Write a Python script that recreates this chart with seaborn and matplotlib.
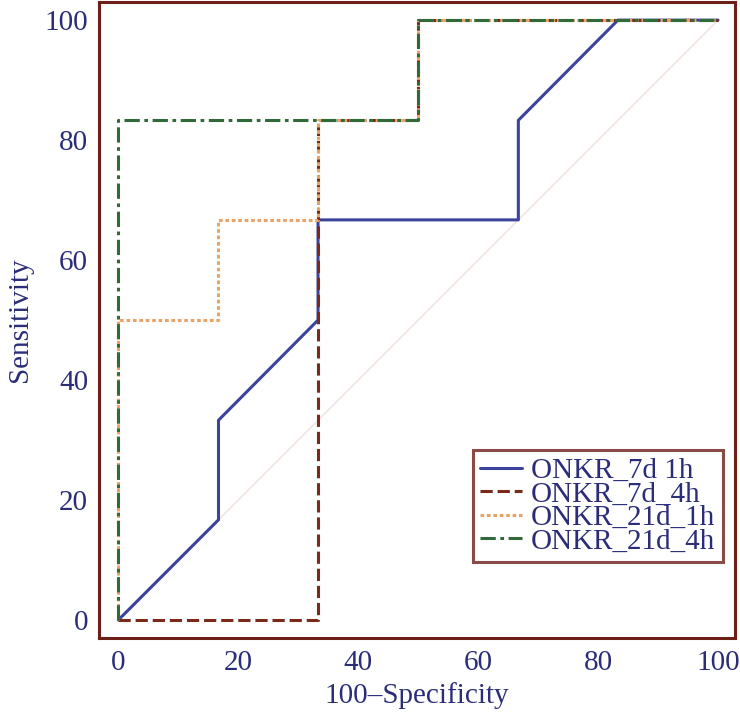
import matplotlib
matplotlib.use("Agg")
import matplotlib.pyplot as plt
import seaborn as sns
import pandas as pd

# ROC data (100-Specificity, Sensitivity)
labels = ["ONKR_7d 1h", "ONKR_7d_4h", "ONKR_21d_1h", "ONKR_21d_4h"]
x_7d_1h = [0, 16.7, 16.7, 33.3, 33.3, 66.7, 66.7, 83.3, 100]
y_7d_1h = [0, 16.7, 33.3, 50.0, 66.7, 66.7, 83.3, 100, 100]
x_7d_4h = [0, 33.3, 33.3, 50, 50, 100]
y_7d_4h = [0, 0, 83.3, 83.3, 100, 100]
x_21d_1h = [0, 0, 16.7, 16.7, 33.3, 33.3, 50, 50, 100]
y_21d_1h = [0, 50, 50, 66.7, 66.7, 83.3, 83.3, 100, 100]
x_21d_4h = [0, 0, 50, 50, 100]
y_21d_4h = [0, 83.3, 83.3, 100, 100]
diag = [0, 100]
xticks = [0, 20, 40, 60, 80, 100]
yticks = [0, 20, 40, 60, 80, 100]

series = [(x_7d_1h, y_7d_1h), (x_7d_4h, y_7d_4h), (x_21d_1h, y_21d_1h), (x_21d_4h, y_21d_4h)]
colors = ["#3b439c", "#7a2a1c", "#e9a366", "#2f6a38"]
dashes = [(None, None), (4, 1.6), (1.2, 0.9), (5, 1.5, 1.2, 1.5)]
widths = [2.2, 2.2, 2.2, 2.2]

sns.set_theme(style="white")
plt.rcParams['font.family'] = ['Liberation Serif', 'DejaVu Serif']
text_color = "#2b2d78"
spine_color = "#6b1f16"

fig = plt.figure(figsize=(7.4, 7.16), dpi=100)
ax = fig.add_axes([0.134, 0.109, 0.859, 0.888])

sns.lineplot(x=diag, y=diag, ax=ax, color="#f2e4e2", linewidth=1.2, sort=False, estimator=None)

for (xs, ys), lab, c, d, w in zip(series, labels, colors, dashes, widths):
    df = pd.DataFrame({"x": xs, "y": ys})
    sns.lineplot(data=df, x="x", y="y", ax=ax, color=c, linewidth=w,
                 sort=False, estimator=None, label=lab)
    if d[0] is not None:
        ax.lines[-1].set_dashes(d)

ax.set_xlim(-3.2, 102.8)
ax.set_ylim(-3.0, 103.0)
ax.set_xticks(xticks)
ax.set_yticks(yticks)
ax.tick_params(direction="in", length=13, width=2.2, color=spine_color,
               labelsize=21, labelcolor=text_color)
ax.tick_params(axis="x", pad=9)
ax.tick_params(axis="y", pad=8)
for s in ax.spines.values():
    s.set_color(spine_color)
    s.set_linewidth(2.2)
ax.set_xlabel("100\u2013Specificity", fontsize=21, color=text_color, labelpad=4)
ax.set_ylabel("Sensitivity", fontsize=21, color=text_color, labelpad=8)

leg = ax.legend(loc="lower right", bbox_to_anchor=(0.981, 0.1195), fontsize=21,
                frameon=True, fancybox=False, handlelength=1.45, handletextpad=0.3,
                borderpad=0.25, labelspacing=-0.1, borderaxespad=0)
leg.get_frame().set_edgecolor(spine_color)
leg.get_frame().set_linewidth(2.2)
for t in leg.get_texts():
    t.set_color(text_color)

fig.savefig("out.png", dpi=100)
